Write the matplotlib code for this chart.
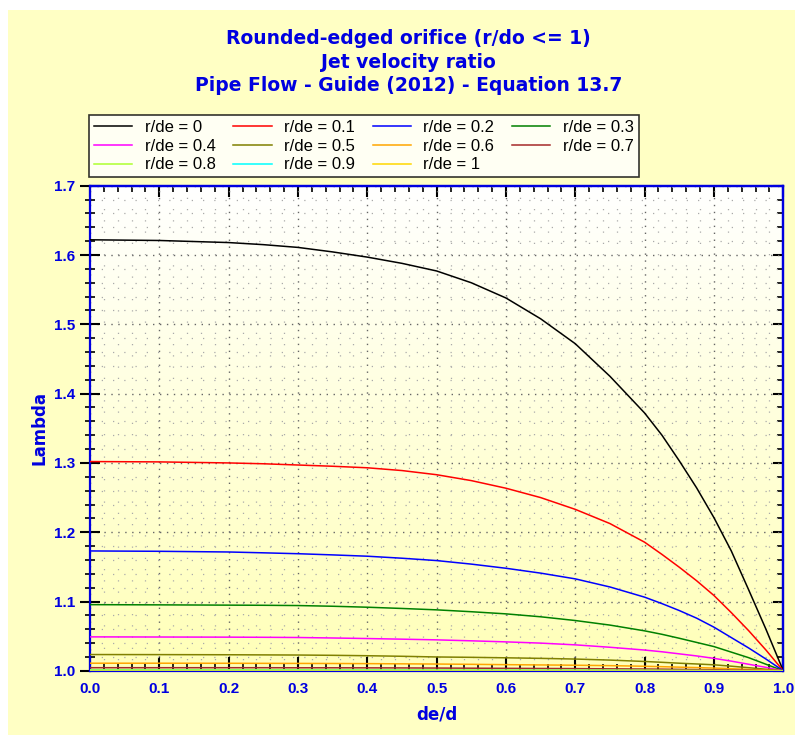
import numpy as np
import matplotlib
matplotlib.use('Agg')
import matplotlib.pyplot as plt
from matplotlib.patches import Rectangle
from matplotlib.ticker import MultipleLocator

plt.rcParams['font.family'] = ['Liberation Sans', 'DejaVu Sans']

# de/d values
x_vals = [0.0, 0.1, 0.2, 0.25, 0.3, 0.35, 0.4, 0.45, 0.5, 0.55, 0.6, 0.65, 0.7, 0.75, 0.8,
          0.825, 0.85, 0.875, 0.9, 0.925, 0.95, 0.975, 1.0]

# Lambda for each r/de
lam_00 = [1.622, 1.621, 1.618, 1.615, 1.611, 1.6045, 1.597, 1.588, 1.577, 1.560, 1.538, 1.508, 1.472, 1.425, 1.372,
          1.340, 1.303, 1.264, 1.221, 1.173, 1.117, 1.060, 1.0]
lam_01 = [1.302, 1.3015, 1.300, 1.2988, 1.297, 1.2952, 1.293, 1.289, 1.283, 1.2745, 1.2635, 1.250, 1.233, 1.2125, 1.1856,
          1.168, 1.1495, 1.130, 1.1087, 1.084, 1.058, 1.030, 1.0]
lam_02 = [1.173, 1.1725, 1.1715, 1.1703, 1.169, 1.1673, 1.1654, 1.1625, 1.1591, 1.154, 1.148, 1.141, 1.1327, 1.121, 1.1063,
          1.097, 1.087, 1.076, 1.063, 1.048, 1.033, 1.017, 1.0]
lam_03 = [1.0955, 1.0952, 1.0948, 1.0946, 1.0942, 1.0932, 1.0918, 1.090, 1.088, 1.0853, 1.0822, 1.078, 1.0726, 1.066, 1.0577,
          1.0527, 1.047, 1.041, 1.035, 1.027, 1.019, 1.0095, 1.0]
lam_04 = [1.049, 1.0488, 1.0486, 1.0484, 1.0481, 1.0474, 1.0466, 1.0457, 1.0447, 1.0433, 1.0418, 1.040, 1.0375, 1.034, 1.030,
          1.0275, 1.0245, 1.0215, 1.018, 1.014, 1.0095, 1.005, 1.0]
lam_05 = [1.0235, 1.0234, 1.0232, 1.023, 1.0228, 1.0224, 1.0218, 1.021, 1.020, 1.0195, 1.0188, 1.018, 1.017, 1.0155, 1.0135,
          1.0123, 1.011, 1.0099, 1.0087, 1.0067, 1.0045, 1.0023, 1.0]
lam_06 = [1.011, 1.011, 1.0109, 1.0108, 1.0107, 1.0106, 1.0104, 1.0101, 1.0098, 1.0094, 1.0089, 1.0085, 1.0081, 1.0075, 1.0066,
          1.006, 1.0053, 1.0047, 1.004, 1.0031, 1.0021, 1.0011, 1.0]
lam_07 = [1.0045, 1.0045, 1.0045, 1.0045, 1.0044, 1.0044, 1.0043, 1.0042, 1.004, 1.0038, 1.0036, 1.0034, 1.0032, 1.0029, 1.0026,
          1.0024, 1.0021, 1.0018, 1.0016, 1.0012, 1.0009, 1.0004, 1.0]
lam_08 = [1.0015, 1.0015, 1.0015, 1.0015, 1.0015, 1.0014, 1.0014, 1.0014, 1.0013, 1.0013, 1.0012, 1.0011, 1.0011, 1.001, 1.0009,
          1.0008, 1.0007, 1.0006, 1.0005, 1.0004, 1.0003, 1.0001, 1.0]
lam_09 = [1.0004, 1.0004, 1.0004, 1.0004, 1.0004, 1.0004, 1.0004, 1.0004, 1.0003, 1.0003, 1.0003, 1.0003, 1.0003, 1.0003, 1.0002,
          1.0002, 1.0002, 1.0002, 1.0001, 1.0001, 1.0001, 1.0, 1.0]
lam_10 = [1.0] * 23

labels = ['r/de = 0', 'r/de = 0.1', 'r/de = 0.2', 'r/de = 0.3', 'r/de = 0.4', 'r/de = 0.5',
          'r/de = 0.6', 'r/de = 0.7', 'r/de = 0.8', 'r/de = 0.9', 'r/de = 1']
colors = ['black', 'red', 'blue', 'green', 'magenta', 'olive',
          'orange', 'brown', 'greenyellow', 'cyan', 'gold']
series = [lam_00, lam_01, lam_02, lam_03, lam_04, lam_05, lam_06, lam_07, lam_08, lam_09, lam_10]

blue = '#0000E0'

fig = plt.figure(figsize=(7.97, 7.35), dpi=100)
fig.patch.set_facecolor('white')
fig.patches.append(Rectangle((8 / 797, 0), 787 / 797, 725 / 735, transform=fig.transFigure,
                             facecolor='#FFFFC4', edgecolor='none', zorder=-10))

ax = fig.add_axes([0.1129, 0.0873, 0.8699, 0.66])

# white -> yellow gradient in the plot area
grad = np.linspace(0, 1, 256).reshape(-1, 1)
top = np.array([1.0, 1.0, 1.0])
bot = np.array([1.0, 1.0, 0.72])
img = top + (bot - top) * grad[:, :, None]
ax.imshow(img, extent=[0, 1, 1.0, 1.7], origin='upper', aspect='auto', zorder=0)
ax.set_xlim(0, 1)
ax.set_ylim(1.0, 1.7)

handles = []
for ys, c, lab in zip(series, colors, labels):
    h, = ax.plot(x_vals, ys, color=c, lw=1.1, label=lab, zorder=3)
    handles.append(h)

ax.xaxis.set_major_locator(MultipleLocator(0.1))
ax.xaxis.set_minor_locator(MultipleLocator(0.02))
ax.yaxis.set_major_locator(MultipleLocator(0.1))
ax.yaxis.set_minor_locator(MultipleLocator(0.02))
ax.xaxis.set_major_formatter(plt.FormatStrFormatter('%.1f'))
ax.yaxis.set_major_formatter(plt.FormatStrFormatter('%.1f'))

ax.grid(which='major', color='#666666', linestyle=(0, (1, 4)), lw=1.0, zorder=1)
ax.grid(which='minor', color='#aaaaaa', linestyle=(0, (1, 8)), lw=0.9, zorder=1)

for s in ax.spines.values():
    s.set_color(blue)
    s.set_linewidth(1.6)

ax.tick_params(axis='y', which='major', direction='inout', length=15, width=1.5, color='black',
               labelcolor=blue, labelsize=11, pad=3)
ax.tick_params(axis='y', which='minor', direction='inout', length=7, width=1.2, color='black')
ax.tick_params(axis='x', which='major', direction='in', length=10, width=1.5, color='black',
               labelcolor=blue, labelsize=11, pad=8)
ax.tick_params(axis='x', which='minor', direction='in', length=5, width=1.2, color='black')
for lab in ax.get_xticklabels() + ax.get_yticklabels():
    lab.set_fontweight('bold')

# inward ticks on top and right
sec_x = ax.secondary_xaxis('top')
sec_x.xaxis.set_major_locator(MultipleLocator(0.1))
sec_x.xaxis.set_minor_locator(MultipleLocator(0.02))
sec_x.tick_params(which='major', direction='in', length=8, width=1.5, color='black', labeltop=False)
sec_x.tick_params(which='minor', direction='in', length=4, width=1.2, color='black')
sec_y = ax.secondary_yaxis('right')
sec_y.yaxis.set_major_locator(MultipleLocator(0.1))
sec_y.yaxis.set_minor_locator(MultipleLocator(0.02))
sec_y.tick_params(which='major', direction='in', length=7, width=1.5, color='black', labelright=False)
sec_y.tick_params(which='minor', direction='in', length=4, width=1.2, color='black')
for sec in (sec_x, sec_y):
    for s in sec.spines.values():
        s.set_color(blue)
        s.set_linewidth(1.6)

ax.set_xlabel('de/d', color=blue, fontsize=12, fontweight='bold', family='DejaVu Sans', labelpad=7)
ax.set_ylabel('Lambda', color=blue, fontsize=12, fontweight='bold', family='DejaVu Sans', labelpad=4)

title = 'Rounded-edged orifice (r/do <= 1)\nJet velocity ratio\nPipe Flow - Guide (2012) - Equation 13.7'
fig.text(0.513, 1 - 62 / 735, title, ha='center', va='center', color=blue, family='DejaVu Sans',
         fontsize=13.5, fontweight='bold', linespacing=1.3)

# row-major legend order
order = [0, 4, 8, 1, 5, 9, 2, 6, 10, 3, 7]
leg = fig.legend([handles[i] for i in order], [labels[i] for i in order], ncol=4,
                 loc='upper left', bbox_to_anchor=(89 / 797, 1 - 115 / 735),
                 fontsize=12, frameon=True, fancybox=False, shadow=False,
                 handlelength=2.3, handletextpad=0.75, labelspacing=0.22, borderpad=0.3,
                 borderaxespad=0, columnspacing=1.05)
leg.get_frame().set_edgecolor('black')
leg.get_frame().set_linewidth(1.2)
leg.get_frame().set_facecolor('white')

fig.savefig('out.png', dpi=100, facecolor=fig.get_facecolor())
